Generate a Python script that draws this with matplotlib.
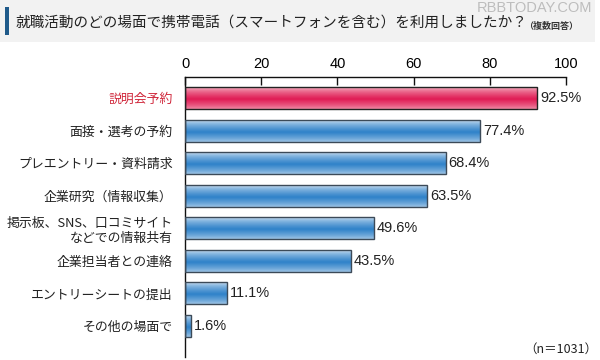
import numpy as np
import matplotlib
matplotlib.use('Agg')
import matplotlib.pyplot as plt
from matplotlib.patches import Rectangle

plt.rcParams['font.family'] = ['Noto Sans CJK JP', 'DejaVu Sans']

# データ
categories = ['説明会予約', '面接・選考の予約', 'プレエントリー・資料請求', '企業研究（情報収集）',
              '掲示板、SNS、口コミサイト\nなどでの情報共有', '企業担当者との連絡',
              'エントリーシートの提出', 'その他の場面で']
values = [92.5, 77.4, 68.4, 63.5, 49.6, 43.5, 11.1, 1.6]
xticks = [0, 20, 40, 60, 80, 100]

title = '就職活動のどの場面で携帯電話（スマートフォンを含む）を利用しましたか？'
note = '（複数回答）'
n_text = '（n＝1031）'

fig = plt.figure(figsize=(6, 3.6), dpi=100)

# タイトル帯
fig.patches.append(Rectangle((0, 1 - 42 / 360), 595 / 600, 42 / 360,
                             transform=fig.transFigure, facecolor='#f2f2f2', edgecolor='none', zorder=0))
fig.patches.append(Rectangle((5 / 600, 1 - 35 / 360), 4 / 600, 28 / 360,
                             transform=fig.transFigure, facecolor='#1f5a8a', edgecolor='none', zorder=1))
fig.text(16 / 600, 1 - 23 / 360, title, fontsize=10.5, va='center', color='#222222')
fig.text(524 / 600, 1 - 26 / 360, note, fontsize=6.5, va='center', ha='left', color='#333333',
         fontweight='bold')
fig.text(592 / 600, 1 - 8 / 360, 'RBBTODAY.COM', fontsize=10.5, ha='right', va='center',
         color='#9a9a9a', alpha=0.6, family=['Liberation Sans', 'DejaVu Sans'])

ax = fig.add_axes([185 / 600, 3 / 360, 381 / 600, 280 / 360])

h = 0.675
ypos = np.arange(len(values))


def gradient(light, dark, n=40):
    s = np.linspace(0, 1, n)
    # 上が明るく、中央が濃い
    f = np.clip(1 - np.abs(s - 0.55) / 0.55, 0, 1) ** 0.6
    light = np.array(matplotlib.colors.to_rgb(light))
    dark = np.array(matplotlib.colors.to_rgb(dark))
    cols = light[None, :] * (1 - f[:, None]) + dark[None, :] * f[:, None]
    return cols[:, None, :]


for i, v in enumerate(values):
    if i == 0:
        g = gradient('#f7c4d0', '#e01c55')
        ec = '#222222'
    else:
        g = gradient('#dbe9f6', '#2f82c9')
        ec = '#3c4a58'
    ax.imshow(g, extent=(0, v, i + h / 2, i - h / 2), aspect='auto', zorder=2, interpolation='bilinear')
    ax.barh(i, v, height=h, facecolor='none', edgecolor=ec, linewidth=1.0, zorder=3)
    ax.text(v + 0.8, i, f'{v}%', va='center', ha='left', fontsize=10.5, color='#222222',
            family=['Liberation Sans', 'DejaVu Sans'])

ax.set_xlim(0, 100)
ax.set_ylim(7.95, -0.645)
ax.set_yticks(ypos)
ax.set_yticklabels(categories, fontsize=9.3, color='#222222')
ax.get_yticklabels()[0].set_color('#d0283c')
ax.tick_params(axis='y', length=0, pad=9)

ax.xaxis.tick_top()
ax.set_xticks(xticks)
ax.set_xticklabels([str(x) for x in xticks], fontsize=10.5, family=['Liberation Sans', 'DejaVu Sans'])
ax.tick_params(axis='x', direction='in', length=6, width=1, pad=4, color='#111111')

for s in ['right', 'bottom']:
    ax.spines[s].set_visible(False)
for s in ['top', 'left']:
    ax.spines[s].set_color('#111111')
    ax.spines[s].set_linewidth(1.0)

fig.text(597 / 600, 1 - 349 / 360, n_text, fontsize=9, ha='right', va='center', color='#222222')

fig.savefig('out.png', dpi=100)
